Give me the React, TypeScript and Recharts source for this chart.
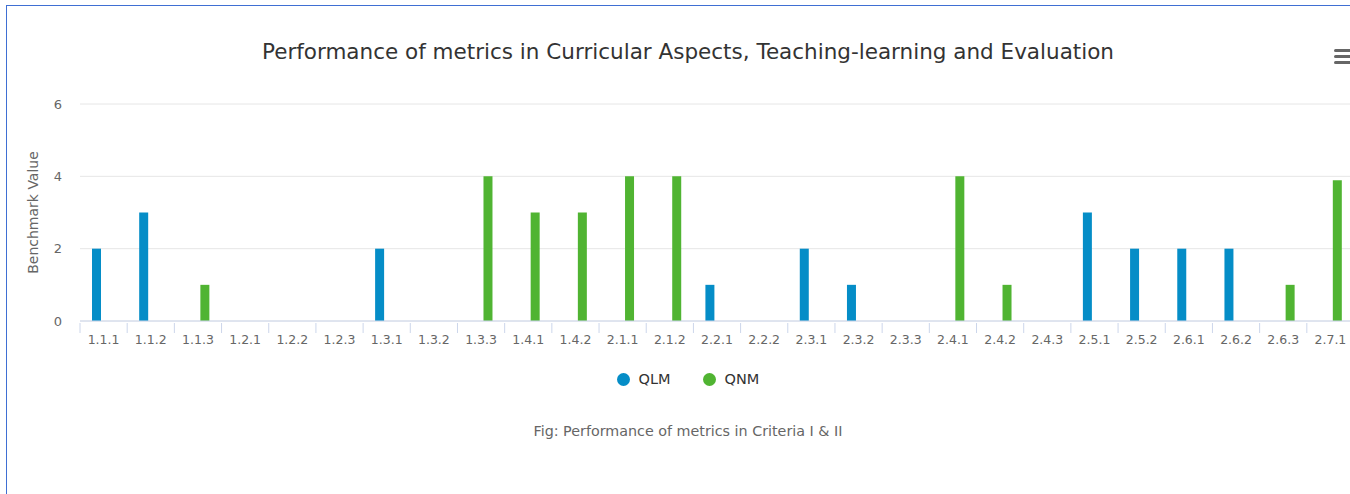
import { BarChart, Bar, XAxis, YAxis, CartesianGrid, Legend } from "recharts";

const categories = [
  "1.1.1", "1.1.2", "1.1.3", "1.2.1", "1.2.2", "1.2.3", "1.3.1", "1.3.2", "1.3.3",
  "1.4.1", "1.4.2", "2.1.1", "2.1.2", "2.2.1", "2.2.2", "2.3.1", "2.3.2", "2.3.3",
  "2.4.1", "2.4.2", "2.4.3", "2.5.1", "2.5.2", "2.6.1", "2.6.2", "2.6.3", "2.7.1",
];
const qlmValues = [2, 3, 0, 0, 0, 0, 2, 0, 0, 0, 0, 0, 0, 1, 0, 2, 1, 0, 0, 0, 0, 3, 2, 2, 2, 0, 0];
const qnmValues = [0, 0, 1, 0, 0, 0, 0, 0, 4, 3, 3, 4, 4, 0, 0, 0, 0, 0, 4, 1, 0, 0, 0, 0, 0, 1, 3.89];
const yTicks = [0, 2, 4, 6];

const data = categories.map((name, i) => ({ name, QLM: qlmValues[i], QNM: qnmValues[i] }));

const FONT = "'DejaVu Sans', sans-serif";
const W = 1362;
const H = 443;
const MARGIN = { top: 98, right: 15, bottom: 10, left: 0 };
const Y_AXIS_W = 73;
const BAND = (W - MARGIN.left - MARGIN.right - Y_AXIS_W) / categories.length;

function CategoryTick(props: any) {
  const { x, y, payload, index } = props;
  const left = x - BAND / 2;
  const right = x + BAND / 2;
  return (
    <g>
      <line x1={left} x2={left} y1={y} y2={y + 10} stroke="#ccd6eb" />
      {index === categories.length - 1 && (
        <line x1={right} x2={right} y1={y} y2={y + 10} stroke="#ccd6eb" />
      )}
      <text x={x} y={y + 21} textAnchor="middle" fill="#666" fontSize={12.5} fontFamily={FONT}>
        {payload.value}
      </text>
    </g>
  );
}

function YAxisTitle(props: any) {
  const vb = props.viewBox || { x: 0, y: MARGIN.top, width: Y_AXIS_W, height: 217 };
  const cx = vb.x + 26;
  const cy = vb.y + vb.height / 2;
  return (
    <text
      x={cx}
      y={cy}
      transform={`rotate(-90, ${cx}, ${cy})`}
      textAnchor="middle"
      dominantBaseline="central"
      fill="#666"
      fontSize={14}
      fontFamily={FONT}
    >
      Benchmark Value
    </text>
  );
}

function LegendWithCaption(props: any) {
  const { payload = [] } = props;
  return (
    <div style={{ paddingTop: 17, paddingLeft: 15, textAlign: "center", fontFamily: FONT }}>
      <div style={{ height: 22, display: "flex", justifyContent: "center", alignItems: "center", gap: 32 }}>
        {payload.map((item: any) => (
          <span key={item.value} style={{ display: "flex", alignItems: "center" }}>
            <span
              style={{
                width: 13,
                height: 13,
                borderRadius: "50%",
                background: item.color,
                marginRight: 9,
                display: "inline-block",
              }}
            />
            <span style={{ fontSize: 14.5, color: "#333" }}>{item.value}</span>
          </span>
        ))}
      </div>
      <div style={{ marginTop: 33, height: 16, lineHeight: "16px", fontSize: 14.3, color: "#666" }}>
        Fig: Performance of metrics in Criteria I &amp; II
      </div>
    </div>
  );
}

export default function App() {
  return (
    <div style={{ position: "absolute", left: 0, top: 0, width: 1350, height: 494, overflow: "hidden", background: "#fff" }}>
      <div
        style={{
          position: "absolute",
          left: 6,
          top: 5,
          width: W + 10,
          height: 500,
          borderLeft: "1px solid #3f6fd3",
          borderTop: "1px solid #3f6fd3",
        }}
      >
        <div
          style={{
            position: "absolute",
            top: 33,
            left: 0,
            width: W,
            textAlign: "center",
            fontFamily: FONT,
            fontSize: 21.5,
            lineHeight: "26px",
            color: "#333",
          }}
        >
          Performance of metrics in Curricular Aspects, Teaching-learning and Evaluation
        </div>
        <div style={{ position: "absolute", left: 1327, top: 43, width: 17 }}>
          {[0, 1, 2].map((i) => (
            <div key={i} style={{ height: 3, background: "#666", borderRadius: 1.5, marginBottom: 3 }} />
          ))}
        </div>
        <BarChart width={W} height={H} data={data} margin={MARGIN} barSize={9} barGap={5}>
          <CartesianGrid vertical={false} stroke="#e6e6e6" />
          <XAxis
            dataKey="name"
            interval={0}
            height={30}
            tickLine={false}
            tickSize={0}
            stroke="#ccd6eb"
            tick={<CategoryTick />}
          />
          <YAxis
            width={Y_AXIS_W}
            domain={[0, 6]}
            ticks={yTicks}
            axisLine={false}
            tickLine={false}
            tickSize={0}
            tickMargin={18}
            tick={{ fill: "#666", fontSize: 13, fontFamily: FONT }}
            label={{ content: YAxisTitle }}
          />
          <Legend verticalAlign="bottom" content={<LegendWithCaption />} />
          <Bar dataKey="QLM" fill="#058DC7" isAnimationActive={false} />
          <Bar dataKey="QNM" fill="#50B432" isAnimationActive={false} />
        </BarChart>
      </div>
    </div>
  );
}
